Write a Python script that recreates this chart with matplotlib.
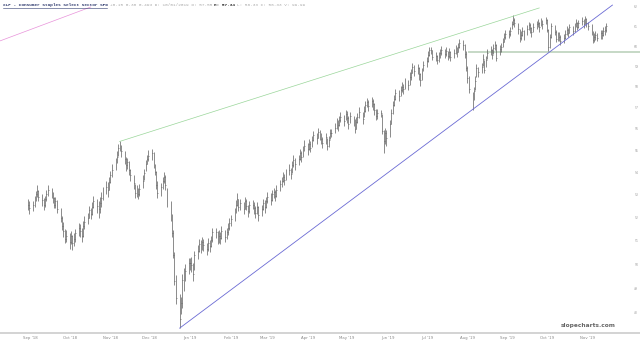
import matplotlib
matplotlib.use("Agg")

import matplotlib.pyplot as plt
import matplotlib.dates as mdates
from matplotlib.lines import Line2D
from matplotlib.ticker import NullLocator, NullFormatter
import pandas as pd

# ================= DATA (daily bars, 2018-08-30 .. 2019-11-15) =================
closes = [
    52.55, 52.40,
    52.55, 52.75, 53.00, 53.15, 52.90, 52.75, 52.55, 52.80, 53.00, 53.20, 53.05, 52.85, 52.55, 52.70, 52.35, 51.95, 51.60, 51.40, 51.05, 51.20,
    50.95, 51.20, 50.90, 51.05, 51.30, 51.55, 51.40, 51.20, 51.60, 51.80, 51.95, 52.30, 52.15, 52.45, 52.70, 52.50, 52.35, 52.60, 52.85, 53.10, 53.35, 53.20, 53.55,
    53.85, 54.10, 54.45, 54.70, 55.10, 55.20, 54.95, 54.60, 54.30, 54.45, 54.10, 53.85, 53.50, 53.05, 53.20, 53.00, 53.25, 53.60, 53.95, 54.35, 54.60, 54.75,
    54.85, 54.30, 54.00, 53.40, 53.05, 53.35, 53.60, 53.80, 53.40, 52.60, 52.00, 51.30, 50.40, 49.30, 48.60, 47.75, 48.40, 49.35, 49.55, 49.70, 50.05,
    50.05, 49.95, 49.60, 50.40, 50.55, 50.85, 50.70, 50.95, 50.80, 50.65, 50.90, 50.75, 51.00, 51.35, 51.35, 51.05, 51.20, 51.10, 51.40, 51.15, 51.35, 51.55, 51.75,
    51.90, 52.20, 52.55, 52.80, 52.45, 52.60, 52.35, 52.70, 52.50, 52.25, 52.55, 52.55, 52.40, 52.20, 52.45, 52.10, 52.35, 52.60, 52.45, 52.70,
    52.90, 52.75, 53.00, 53.10, 52.95, 53.20, 53.45, 53.60, 53.80, 53.65, 53.95, 54.10, 53.90, 54.30, 54.55, 54.35, 54.60, 54.85, 54.70, 55.00, 55.20,
    55.05, 55.30, 55.10, 55.45, 55.70, 55.55, 55.85, 55.70, 55.50, 55.35, 55.60, 55.20, 55.45, 55.80, 55.80, 56.05, 56.30, 56.15, 56.40, 56.55, 56.35, 56.70,
    56.50, 56.20, 56.60, 56.35, 56.00, 56.30, 56.55, 56.80, 56.45, 56.85, 57.10, 57.25, 57.05, 57.30, 57.15, 56.90, 56.60, 56.75, 56.75, 55.90, 55.40, 55.80, 55.55,
    56.20, 56.75, 57.10, 57.40, 57.70, 57.55, 57.85, 58.00, 57.90, 58.20, 58.10, 58.45, 58.65, 58.95, 58.75, 58.90, 58.60, 58.35, 58.70, 59.05,
    59.25, 59.55, 59.80, 59.80, 59.45, 59.50, 59.30, 59.45, 59.65, 59.80, 59.60, 59.75, 59.50, 59.70, 59.45, 59.65, 59.85, 59.70, 59.95, 60.15, 60.05, 59.60, 58.90,
    58.40, 57.90, 57.20, 57.80, 58.30, 58.90, 58.70, 58.95, 59.35, 58.80, 59.30, 59.65, 59.80, 59.55, 59.90, 60.05, 59.40, 59.85, 59.95, 60.20, 60.45, 60.60,
    60.60, 60.75, 61.10, 61.35, 61.20, 60.85, 60.40, 60.55, 60.75, 60.50, 60.85, 61.05, 60.90, 60.70, 60.95, 61.10, 61.20, 60.95, 61.25, 61.10, 61.35,
    60.80, 59.95, 60.45, 61.00, 60.70, 60.35, 60.55, 60.45, 60.25, 60.40, 60.60, 60.80, 60.65, 60.95, 60.75, 61.00, 61.20, 60.95, 61.15, 61.30, 61.10, 61.40, 61.20,
    61.00, 60.70, 60.30, 60.45, 60.55, 60.40, 60.65, 60.55, 60.75, 60.80, 61.00,
]
highs = [
    52.80, 52.70,
    52.70, 52.95, 53.15, 53.40, 53.20, 53.00, 52.85, 52.95, 53.20, 53.40, 53.30, 53.10, 52.90, 52.90, 52.75, 52.40, 52.05, 51.80, 51.50, 51.45,
    51.30, 51.40, 51.25, 51.30, 51.50, 51.75, 51.70, 51.55, 51.85, 52.05, 52.20, 52.50, 52.40, 52.65, 52.95, 52.80, 52.70, 52.90, 53.10, 53.35, 53.60, 53.55, 53.80,
    54.05, 54.35, 54.65, 54.95, 55.30, 55.40, 55.25, 54.95, 54.70, 54.65, 54.50, 54.15, 53.85, 53.45, 53.40, 53.30, 53.45, 53.85, 54.15, 54.55, 54.80, 55.00,
    55.05, 54.90, 54.35, 54.05, 53.60, 53.50, 53.80, 54.00, 53.85, 53.30, 52.70, 52.15, 51.45, 50.50, 49.55, 48.75, 48.65, 49.60, 49.85, 50.00, 50.25,
    50.25, 50.30, 50.05, 50.55, 50.80, 51.05, 51.00, 51.15, 51.05, 50.90, 51.10, 51.00, 51.20, 51.55, 51.55, 51.40, 51.45, 51.35, 51.60, 51.45, 51.55, 51.75, 51.95,
    52.10, 52.40, 52.75, 53.05, 52.80, 52.80, 52.65, 52.90, 52.80, 52.55, 52.70, 52.75, 52.65, 52.50, 52.65, 52.50, 52.55, 52.80, 52.75, 52.90,
    53.10, 53.05, 53.20, 53.30, 53.20, 53.40, 53.65, 53.80, 54.00, 53.90, 54.15, 54.35, 54.20, 54.50, 54.80, 54.65, 54.80, 55.05, 54.95, 55.20, 55.45,
    55.35, 55.50, 55.40, 55.65, 55.90, 55.80, 56.05, 55.95, 55.80, 55.60, 55.80, 55.55, 55.65, 56.00, 56.00, 56.25, 56.50, 56.40, 56.60, 56.80, 56.65, 56.90,
    56.85, 56.60, 56.80, 56.60, 56.45, 56.55, 56.75, 57.00, 56.80, 57.05, 57.30, 57.45, 57.35, 57.50, 57.40, 57.20, 56.95, 56.95, 56.90, 56.70, 55.95, 56.05, 55.95,
    56.40, 56.95, 57.30, 57.60, 57.90, 57.85, 58.05, 58.25, 58.15, 58.40, 58.35, 58.70, 58.85, 59.15, 59.05, 59.10, 58.95, 58.65, 58.90, 59.25,
    59.45, 59.75, 59.95, 59.95, 59.80, 59.70, 59.55, 59.70, 59.85, 60.00, 59.85, 59.95, 59.75, 59.90, 59.75, 59.85, 60.05, 59.95, 60.15, 60.35, 60.30, 60.10, 59.75,
    59.00, 58.50, 57.75, 58.00, 58.50, 59.10, 58.95, 59.15, 59.60, 59.30, 59.50, 59.85, 60.00, 59.85, 60.10, 60.25, 60.10, 60.05, 60.15, 60.40, 60.65, 60.80,
    60.80, 60.95, 61.30, 61.60, 61.45, 61.20, 60.85, 60.75, 60.95, 60.80, 61.05, 61.25, 61.15, 60.95, 61.15, 61.30, 61.40, 61.25, 61.45, 61.35, 61.50,
    61.40, 60.85, 60.60, 61.15, 61.05, 60.80, 60.70, 60.70, 60.55, 60.60, 60.80, 61.00, 60.90, 61.10, 61.00, 61.20, 61.40, 61.25, 61.35, 61.50, 61.40, 61.55, 61.45,
    61.25, 61.10, 60.75, 60.65, 60.75, 60.65, 60.80, 60.80, 60.95, 61.00, 61.15,
]
lows = [
    52.30, 52.15,
    52.25, 52.45, 52.70, 52.90, 52.70, 52.50, 52.30, 52.45, 52.70, 52.95, 52.85, 52.60, 52.40, 52.40, 52.20, 51.80, 51.45, 51.15, 50.90, 50.95,
    50.65, 50.85, 50.60, 50.75, 50.95, 51.20, 51.15, 50.95, 51.15, 51.50, 51.70, 51.95, 51.90, 52.10, 52.40, 52.20, 51.95, 52.20, 52.45, 52.75, 53.00, 52.90, 53.20,
    53.50, 53.80, 54.10, 54.40, 54.75, 54.95, 54.70, 54.35, 54.05, 54.15, 53.85, 53.60, 53.25, 52.85, 52.90, 52.80, 52.95, 53.30, 53.65, 54.05, 54.35, 54.50,
    54.55, 54.20, 53.85, 53.25, 52.85, 52.95, 53.25, 53.50, 53.20, 52.45, 51.85, 51.15, 50.25, 49.15, 48.35, 47.39, 47.95, 48.20, 48.90, 49.30, 49.60,
    49.75, 49.65, 49.30, 49.75, 50.20, 50.50, 50.45, 50.60, 50.55, 50.40, 50.55, 50.50, 50.70, 50.95, 51.10, 50.85, 50.90, 50.85, 51.05, 50.95, 51.05, 51.25, 51.45,
    51.60, 51.85, 52.20, 52.50, 52.25, 52.30, 52.15, 52.35, 52.30, 52.00, 52.20, 52.35, 52.15, 51.95, 52.15, 51.85, 52.05, 52.30, 52.20, 52.40,
    52.60, 52.55, 52.70, 52.85, 52.70, 52.90, 53.15, 53.35, 53.55, 53.40, 53.65, 53.85, 53.70, 53.95, 54.25, 54.10, 54.30, 54.55, 54.45, 54.70, 54.95,
    54.80, 55.00, 54.90, 55.15, 55.40, 55.30, 55.55, 55.45, 55.30, 55.10, 55.30, 55.00, 55.15, 55.50, 55.60, 55.80, 56.00, 55.90, 56.10, 56.30, 56.10, 56.40,
    56.25, 56.00, 56.25, 56.10, 55.80, 56.00, 56.25, 56.50, 56.20, 56.55, 56.80, 57.00, 56.85, 57.00, 56.90, 56.65, 56.40, 56.45, 56.55, 55.75, 54.85, 55.30, 55.20,
    55.60, 56.20, 56.70, 57.05, 57.35, 57.30, 57.55, 57.75, 57.65, 57.90, 57.85, 58.10, 58.35, 58.65, 58.50, 58.60, 58.35, 58.05, 58.35, 58.75,
    58.95, 59.20, 59.50, 59.60, 59.30, 59.25, 59.10, 59.20, 59.40, 59.55, 59.40, 59.50, 59.30, 59.40, 59.25, 59.40, 59.60, 59.45, 59.70, 59.90, 59.80, 59.40, 58.75,
    58.20, 57.70, 56.90, 57.35, 57.85, 58.45, 58.45, 58.65, 59.00, 58.65, 58.95, 59.35, 59.55, 59.35, 59.60, 59.80, 59.25, 59.55, 59.70, 59.95, 60.20, 60.35,
    60.40, 60.50, 60.85, 61.05, 60.95, 60.60, 60.20, 60.30, 60.50, 60.30, 60.55, 60.80, 60.65, 60.45, 60.70, 60.85, 60.95, 60.70, 61.00, 60.85, 61.10,
    60.70, 59.75, 59.90, 60.40, 60.55, 60.20, 60.25, 60.25, 60.05, 60.15, 60.35, 60.55, 60.45, 60.65, 60.55, 60.70, 60.95, 60.80, 60.90, 61.05, 60.90, 61.10, 60.95,
    60.80, 60.55, 60.15, 60.20, 60.30, 60.25, 60.35, 60.35, 60.50, 60.55, 60.70,
]

price_ticks = [48, 49, 50, 51, 52, 53, 54, 55, 56, 57, 58, 59, 60, 61, 62]
month_starts = ["2018-09-01", "2018-10-01", "2018-11-01", "2018-12-01", "2019-01-01",
                "2019-02-01", "2019-03-01", "2019-04-01", "2019-05-01", "2019-06-01",
                "2019-07-01", "2019-08-01", "2019-09-01", "2019-10-01", "2019-11-01"]
month_labels = ["Sep '18", "Oct '18", "Nov '18", "Dec '18", "Jan '19", "Feb '19", "Mar '19",
                "Apr '19", "May '19", "Jun '19", "Jul '19", "Aug '19", "Sep '19", "Oct '19", "Nov '19"]

# trendlines (date, price)
top_line = [("2018-11-08", 55.40), ("2019-09-25", 61.95)]
bottom_line = [("2018-12-24", 47.39), ("2019-11-20", 62.10)]
old_line = [("2018-08-08", 60.25), ("2018-10-17", 62.0)]
support_level = 59.73
support_start = "2019-08-02"

title = "XLP - Consumer Staples Select Sector SPD"
quote = "+0.15 0.38 0.49% D: 10/01/2019 O: 57.55"
quote_h = "H: 57.34"
quote_rest = "L: 56.33 C: 56.33 V: 99.99"

n = min(len(closes), len(highs), len(lows))
dates = pd.bdate_range("2018-08-30", periods=n)
xd = mdates.date2num(dates.to_pydatetime())

# ================= FIGURE =================
fig = plt.figure(figsize=(6.4, 3.45), dpi=100)
fig.patch.set_facecolor("white")
ax = fig.add_axes([0, 12 / 345, 628 / 640, 333 / 345])

ax.vlines(xd, lows[:n], highs[:n], color="#5e5e5e", lw=0.5)
ax.hlines(closes[:n], xd, xd + 0.7, color="#5e5e5e", lw=0.45)

def to_x(d):
    return mdates.date2num(pd.Timestamp(d).to_pydatetime())

for line, col, lw in [(top_line, "#9ad69a", 0.5), (bottom_line, "#6a6ad4", 0.6), (old_line, "#e892da", 0.5)]:
    ax.plot([to_x(p[0]) for p in line], [p[1] for p in line], color=col, lw=lw)

base = to_x("2018-09-01")
ax.plot([to_x(support_start), base + 466], [support_level, support_level],
        color="#c6d8c6", lw=1.4, clip_on=False, zorder=0)

ax.set_yscale("log")
ax.set_ylim(47.197, 62.364)
ax.set_xlim(base - 23.4, base + 456.9)

# ================= AXES =================
for s in ax.spines.values():
    s.set_visible(False)
ax.yaxis.tick_right()
ax.yaxis.set_minor_locator(NullLocator())
ax.yaxis.set_minor_formatter(NullFormatter())
ax.set_yticks(price_ticks)
ax.set_yticklabels([str(p) for p in price_ticks])
ax.tick_params(axis="y", length=0, pad=4.5, labelsize=2.2, labelcolor="#999999")
ax.set_xticks([to_x(m) for m in month_starts])
ax.set_xticklabels(month_labels)
ax.tick_params(axis="x", length=0, pad=2.5, labelsize=2.8, labelcolor="#888888")

fig.add_artist(Line2D([0, 1], [12 / 345, 12 / 345], color="#cccccc", lw=1.2))

# ================= HEADER =================
ty = 1 - 5 / 345
fig.text(3 / 640, ty, title, family="Liberation Mono", fontsize=3.2,
         color="#2e3a6e", fontweight="bold", va="center")
fig.add_artist(Line2D([3 / 640, 107 / 640], [1 - 8 / 345] * 2, color="#2e3a6e", lw=0.4))
fig.text(110 / 640, ty, quote, family="Liberation Mono", fontsize=3.2, color="#aaaaaa", va="center")
fig.text(214 / 640, ty, quote_h, family="Liberation Mono", fontsize=3.2, color="#333333",
         fontweight="bold", va="center")
fig.text(237 / 640, ty, quote_rest, family="Liberation Mono", fontsize=3.2, color="#aaaaaa", va="center")

# ================= WATERMARK =================
fig.text(588 / 640, 1 - 325 / 345, "slopecharts.com", fontsize=4.2, fontweight="bold",
         color="#666666", ha="center", va="center")

plt.savefig("out.png", dpi=100)
plt.close()
